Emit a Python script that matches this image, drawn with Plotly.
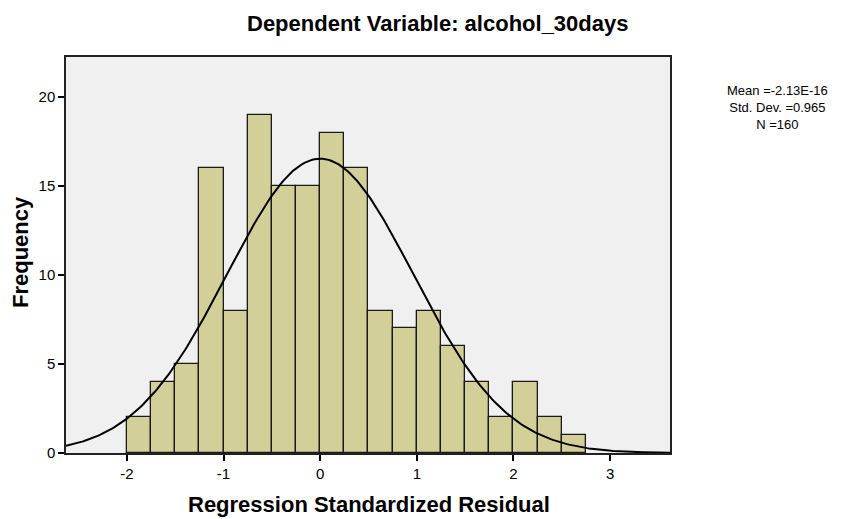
import numpy as np
import plotly.graph_objects as go

bin_starts = [-2.0, -1.75, -1.5, -1.25, -1.0, -0.75, -0.5, -0.25, 0.0, 0.25,
              0.5, 0.75, 1.0, 1.25, 1.5, 1.75, 2.0, 2.25, 2.5]
counts = [2, 4, 5, 16, 8, 19, 15, 15, 18, 16, 8, 7, 8, 6, 4, 2, 4, 2, 1]
bin_width = 0.25
mean = -2.13e-16
sd = 0.965
n = 160
x_ticks = [-2, -1, 0, 1, 2, 3]
x_tick_text = ["-2", "-1", "0", "1", "2", "3"]
y_ticks = [0, 5, 10, 15, 20]
stats_lines = ["Mean =-2.13E-16", "Std. Dev. =0.965", f"N ={n}"]

W, H = 843, 519
L, R, T, B = 66, 670, 57, 453  # plot area in pixels


def px(xp):
    return (xp - L) / (R - L)


def py(yp):
    return (B - yp) / (B - T)


centers = [b + bin_width / 2 for b in bin_starts]

fig = go.Figure()
fig.add_trace(go.Bar(
    x=centers, y=counts, width=bin_width,
    marker=dict(color="#d3cf98", line=dict(color="#1a1a1a", width=1.3)),
    hoverinfo="x+y", showlegend=False,
))

xs = np.linspace(-2.63, 3.62, 300)
ys = n * bin_width / (sd * np.sqrt(2 * np.pi)) * np.exp(-0.5 * ((xs - mean) / sd) ** 2)
fig.add_trace(go.Scatter(x=xs, y=ys, mode="lines",
                         line=dict(color="black", width=2), showlegend=False))

fig.update_layout(
    width=W, height=H,
    margin=dict(l=L, r=W - R, t=T, b=H - B),
    paper_bgcolor="white", plot_bgcolor="#f0f0f0",
    font=dict(family="Liberation Sans, Arial, sans-serif", color="black"),
    bargap=0,
    xaxis=dict(range=[-2.63, 3.62], tickvals=x_ticks, ticktext=x_tick_text,
               ticks="outside", ticklen=6,
               tickwidth=1.5, tickcolor="black", showgrid=False, zeroline=False,
               showline=True, linecolor="#222", linewidth=1.5, mirror=True,
               tickfont=dict(size=15)),
    yaxis=dict(range=[0, 22.25], tickvals=y_ticks, ticks="outside", ticklen=6,
               tickwidth=1.5, tickcolor="black", showgrid=False, zeroline=False,
               showline=True, linecolor="#222", linewidth=1.5, mirror=True,
               tickfont=dict(size=15)),
)

# Title
fig.add_annotation(text="<b>Dependent Variable: alcohol_30days</b>",
                   xref="paper", yref="paper", x=px(437), y=py(23),
                   xanchor="center", yanchor="middle", showarrow=False,
                   font=dict(size=22))
# Axis titles
fig.add_annotation(text="<b>Regression Standardized Residual</b>",
                   xref="paper", yref="paper", x=px(369), y=py(504),
                   xanchor="center", yanchor="middle", showarrow=False,
                   font=dict(size=22))
fig.add_annotation(text="<b>Frequency</b>", textangle=-90,
                   xref="paper", yref="paper", x=px(20), y=py(252),
                   xanchor="center", yanchor="middle", showarrow=False,
                   font=dict(size=22))
# Stats
fig.add_annotation(text="<br>".join(stats_lines), xref="paper", yref="paper",
                   x=px(777), y=py(107), align="center",
                   xanchor="center", yanchor="middle", showarrow=False,
                   font=dict(size=13))

fig.write_html("out.html", config={"displayModeBar": False},
               post_script="document.body.style.margin='0';document.body.style.overflow='hidden';")
